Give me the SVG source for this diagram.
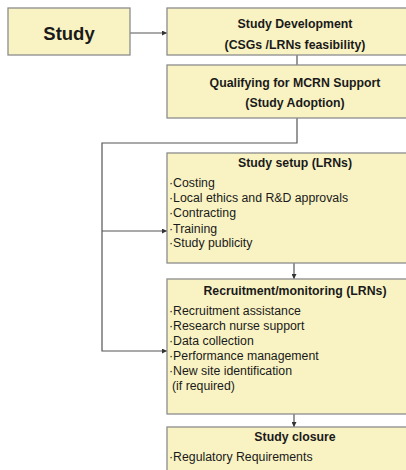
<svg xmlns="http://www.w3.org/2000/svg" width="406" height="470" viewBox="0 0 406 470">
<style>
.box{fill:#f9f3c3;stroke:#8c8c8c;stroke-width:1.3}
.t{font-family:"Liberation Sans",Arial,sans-serif;font-weight:bold;font-size:12.3px;fill:#1a1a1a;text-anchor:middle}
.b{font-family:"Liberation Sans",Arial,sans-serif;font-size:12.3px;fill:#1a1a1a}
.big{font-family:"Liberation Sans",Arial,sans-serif;font-weight:bold;font-size:18.5px;fill:#1a1a1a;text-anchor:middle}
.c{fill:none;stroke:#555;stroke-width:1.2}
</style>
<defs>
<marker id="ah" viewBox="0 0 6 6" refX="6" refY="3" markerWidth="5" markerHeight="5" orient="auto" markerUnits="userSpaceOnUse">
<path d="M0,0 L6,3 L0,6 z" fill="#333"/>
</marker>
</defs>
<rect width="406" height="470" fill="#fff"/>
<g id="connectors">
<path class="c" d="M130,33 H167" marker-end="url(#ah)"/>
<path class="c" d="M297,55 V65"/>
<path class="c" d="M297,118 V143 H102 V351 H167" marker-end="url(#ah)"/>
<path class="c" d="M102,231 H167" marker-end="url(#ah)"/>
<path class="c" d="M294,263 V279" marker-end="url(#ah)"/>
<path class="c" d="M294,414 V427" marker-end="url(#ah)"/>
</g>
<g id="study">
<rect class="box" x="8" y="8" width="122" height="47"/>
<text class="big" x="69" y="39.5">Study</text>
</g>
<g id="development">
<rect class="box" x="167" y="8" width="260" height="47"/>
<text class="t" x="295" y="28">Study Development</text>
<text class="t" x="295" y="49">(CSGs /LRNs feasibility)</text>
</g>
<g id="qualifying">
<rect class="box" x="167" y="65" width="260" height="53"/>
<text class="t" x="295" y="87">Qualifying for MCRN Support</text>
<text class="t" x="295" y="107">(Study Adoption)</text>
</g>
<g id="setup">
<rect class="box" x="167" y="153" width="260" height="110"/>
<text class="t" x="295" y="167">Study setup (LRNs)</text>
<text class="b" x="169" y="187">·Costing</text>
<text class="b" x="169" y="202">·Local ethics and R&amp;D approvals</text>
<text class="b" x="169" y="217">·Contracting</text>
<text class="b" x="169" y="233">·Training</text>
<text class="b" x="169" y="247">·Study publicity</text>
</g>
<g id="recruitment">
<rect class="box" x="167" y="279" width="260" height="135"/>
<text class="t" x="295" y="295">Recruitment/monitoring (LRNs)</text>
<text class="b" x="169" y="315">·Recruitment assistance</text>
<text class="b" x="169" y="330">·Research nurse support</text>
<text class="b" x="169" y="345">·Data collection</text>
<text class="b" x="169" y="360">·Performance management</text>
<text class="b" x="169" y="375">·New site identification</text>
<text class="b" x="172" y="390">(if required)</text>
</g>
<g id="closure">
<rect class="box" x="167" y="427" width="260" height="60"/>
<text class="t" x="295" y="441">Study closure</text>
<text class="b" x="169" y="461">·Regulatory Requirements</text>
</g>
</svg>
